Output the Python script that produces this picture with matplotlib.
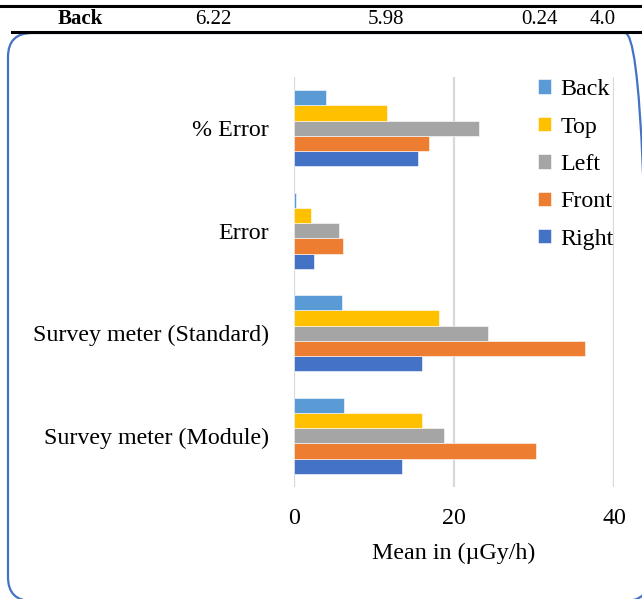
import numpy as np
import matplotlib.pyplot as plt
from matplotlib.patches import FancyBboxPatch
from matplotlib.lines import Line2D
from matplotlib.transforms import IdentityTransform

plt.rcParams['font.family'] = ['Liberation Serif', 'DejaVu Serif']

# Dane
kategorie = ['Survey meter (Module)', 'Survey meter (Standard)', 'Error', '% Error']
serie = ['Right', 'Front', 'Left', 'Top', 'Back']
wartosci = {
    'Right': [13.5, 16.0, 2.5, 15.5],
    'Front': [30.25, 36.4, 6.1, 16.9],
    'Left':  [18.7, 24.25, 5.6, 23.1],
    'Top':   [16.0, 18.1, 2.1, 11.6],
    'Back':  [6.22, 5.98, 0.24, 4.0],
}
kolory = {'Right': '#4472C4', 'Front': '#ED7D31', 'Left': '#A5A5A5',
          'Top': '#FFC000', 'Back': '#5B9BD5'}
wiersz_tabeli = ['Back', '6.22', '5.98', '0.24', '4.0']

W, H = 642, 599
fig = plt.figure(figsize=(W / 100, H / 100), dpi=100)

# wiersz tabeli na gorze
fig.add_artist(Line2D([0, 1], [1 - 6 / H, 1 - 6 / H], color='black', lw=2.2))
fig.add_artist(Line2D([12 / W, 1], [1 - 32 / H, 1 - 32 / H], color='black', lw=2.2))
for txt, xp in zip(wiersz_tabeli, [80, 213, 386, 540, 603]):
    fig.text(xp / W, 1 - 19 / H, txt, ha='center', va='center', fontsize=15,
             fontweight='bold' if txt == 'Back' else 'normal')

# zaokraglona ramka (w pikselach)
ramka = FancyBboxPatch((8, -2), 649 - 8, H - 33 + 2,
                       boxstyle='round,pad=0,rounding_size=24',
                       transform=IdentityTransform(), fill=False,
                       edgecolor='#4472C4', lw=1.6)
fig.add_artist(ramka)

# Wykres
ax = fig.add_axes([294 / W, 1 - 487 / H, (614 - 294) / W, (487 - 77) / H])
y = np.arange(len(kategorie))
h = 0.148
for i, s in enumerate(serie):
    ax.barh(y + (i - 2) * h, wartosci[s], height=h, color=kolory[s],
            edgecolor='white', linewidth=0.4, label=s)

ax.set_xlim(0, 40)
ax.set_ylim(-0.5, 3.5)
ax.set_xticks([0, 20, 40])
ax.set_yticks(y)
ax.set_yticklabels(kategorie, fontsize=17.3)
ax.tick_params(axis='x', labelsize=17.3, length=0, pad=15)
ax.tick_params(axis='y', length=0, pad=18)
ax.xaxis.grid(True, color='#D9D9D9', lw=1.6)
ax.set_axisbelow(True)
for sp in ax.spines.values():
    sp.set_visible(False)
ax.set_xlabel('Mean in (µGy/h)', fontsize=17.3, labelpad=10)

uchwyty, etykiety = ax.get_legend_handles_labels()
ax.legend(uchwyty[::-1], etykiety[::-1], loc='upper left',
          bbox_to_anchor=(234 / 320, 1.018), frameon=False, fontsize=17.3,
          handlelength=0.55, handleheight=0.55, handletextpad=0.4,
          labelspacing=0.68, borderaxespad=0.0)

fig.savefig('out.png', dpi=100)
